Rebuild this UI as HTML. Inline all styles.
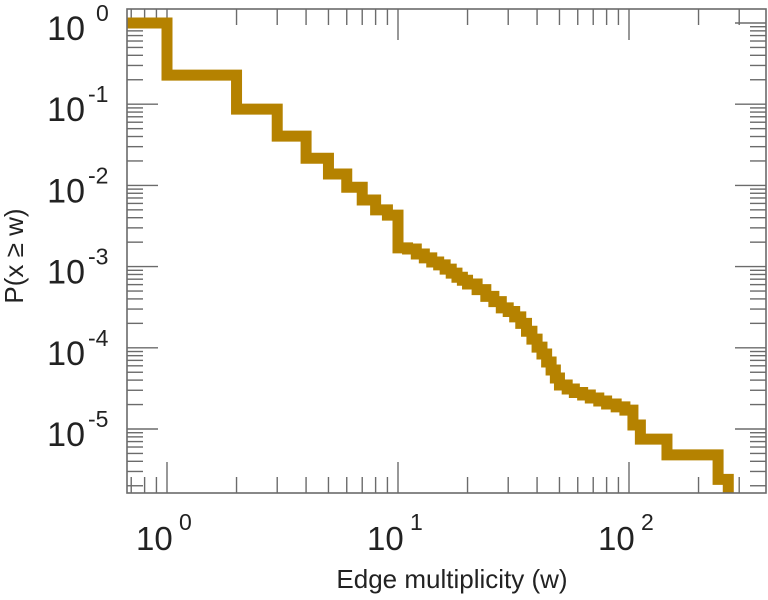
<!DOCTYPE html>
<html><head><meta charset="utf-8"><style>
html,body{margin:0;padding:0;background:#fff;}
svg{display:block;font-family:"Liberation Sans",sans-serif;}
</style></head><body>
<svg id="chart" width="768" height="600" viewBox="0 0 768 600" xmlns="http://www.w3.org/2000/svg">
<defs><clipPath id="plotclip"><rect x="127" y="9" width="639" height="484"/></clipPath></defs>
<g id="ticks"></g>
<g id="series" clip-path="url(#plotclip)"></g>
<rect x="127" y="9" width="639" height="484" fill="none" stroke="#6b6b6b" stroke-width="1.6"/>
<g id="labels"></g>
<text x="452" y="588" font-size="26" text-anchor="middle" fill="#222">Edge multiplicity (w)</text>
<text transform="translate(23,256) rotate(-90)" font-size="26" text-anchor="middle" fill="#222">P(x ≥ w)</text>
</svg>
<script>
const wVals = [0.6, 1, 2, 3, 4, 5, 6, 7, 8, 9, 10, 11, 12, 13, 14, 15, 16, 17, 18, 19, 20, 22, 24, 26, 28, 30, 32, 34, 36, 38, 40, 42, 44, 46, 48, 50, 54, 58, 63, 68, 74, 80, 88, 96, 104, 112, 146, 243];
const pVals = [1, 0.228, 0.087, 0.0405, 0.0216, 0.0138, 0.0095, 0.0066, 0.0050, 0.0043, 0.0017, 0.00165, 0.00143, 0.00128, 0.00114, 0.00105, 0.00093, 0.00083, 0.00074, 0.00068, 0.00061, 0.00052, 0.00043, 0.00037, 0.00031, 0.00028, 0.00024, 0.00020, 0.00016, 0.000128, 0.000102, 0.0000839, 0.0000668, 0.0000533, 0.0000425, 0.0000348, 0.0000311, 0.0000282, 0.0000262, 0.0000241, 0.0000221, 0.0000203, 0.0000187, 0.0000171, 0.0000112, 0.0000075, 0.0000048, 0.0000024];
const wEnd = 269;
const xTickExps = [0, 1, 2];
const yTickExps = [0, -1, -2, -3, -4, -5];

const NS = "http://www.w3.org/2000/svg";
const L = 127, R = 766, T = 9, B = 493;
function xs(w){ return 167 + 231 * Math.log10(w); }
function ys(p){ return 23 - 81.2 * Math.log10(p); }
function mk(tag, attrs, parent){ const e = document.createElementNS(NS, tag); for (const k in attrs) e.setAttribute(k, attrs[k]); parent.appendChild(e); return e; }

let d = "";
for (let i = 0; i < wVals.length; i++) {
  const x0 = xs(wVals[i]), y = ys(pVals[i]);
  const x1 = i + 1 < wVals.length ? xs(wVals[i + 1]) : xs(wEnd);
  d += (i === 0 ? "M" : "L") + x0 + "," + y + " L" + x1 + "," + y + " ";
}
d += "L" + xs(wEnd) + "," + (B + 20);
const path = mk("path", {d: d, fill: "none", stroke: "#b58200", "stroke-width": 11, "stroke-linejoin": "miter", "stroke-linecap": "butt"}, document.getElementById("series"));



const tg = document.getElementById("ticks");
const tickStyle = {stroke: "#6b6b6b", "stroke-width": 1.4};
for (let e = -1; e <= 2; e++) {
  for (let m = 1; m <= 9; m++) {
    const x = xs(m * Math.pow(10, e));
    if (x < L + 1 || x > R - 1) continue;
    const len = m === 1 ? 31 : 16;
    const t1 = mk("line", Object.assign({x1: x, x2: x, y1: B, y2: B - len}, tickStyle), tg);
    
    
    const t2 = mk("line", Object.assign({x1: x, x2: x, y1: T, y2: T + len}, tickStyle), tg);
    
    
  }
}
for (let e = -6; e <= 0; e++) {
  for (let m = 1; m <= 9; m++) {
    const y = ys(m * Math.pow(10, e));
    if (y < T + 1 || y > B - 1) continue;
    const len = m === 1 ? 31 : 16;
    const t1 = mk("line", Object.assign({x1: L, x2: L + len, y1: y, y2: y}, tickStyle), tg);
    
    
    const t2 = mk("line", Object.assign({x1: R, x2: R - len, y1: y, y2: y}, tickStyle), tg);
    
    
  }
}

const lg = document.getElementById("labels");
xTickExps.forEach(function(e){
  const x = xs(Math.pow(10, e));
  const t = mk("text", {x: x - 31, y: 550, "font-size": 33, fill: "#222"}, lg);
  t.textContent = "10";
  
  
  const s = mk("text", {x: x + 12, y: 530, "font-size": 23, fill: "#222"}, lg);
  s.textContent = String(e);
  
  
});
yTickExps.forEach(function(e){
  const y = ys(Math.pow(10, e));
  const t = mk("text", {x: 85, y: y + 17, "font-size": 34, "text-anchor": "end", fill: "#222"}, lg);
  t.textContent = "10";
  
  
  const s = mk("text", {x: e === 0 ? 96 : 88, y: y - 2, "font-size": 23, fill: "#222"}, lg);
  s.textContent = String(e);
  
  
});
</script>
</body></html>
